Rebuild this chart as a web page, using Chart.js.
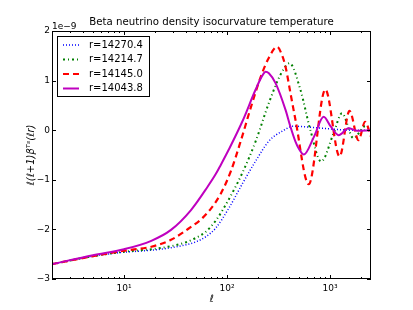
<!DOCTYPE html>
<html><head><meta charset="utf-8">
<script src="https://cdn.jsdelivr.net/npm/chart.js@4/dist/chart.umd.min.js"></script>
<style>html,body{margin:0;background:#fff}</style>
</head><body>
<canvas id="c" width="413" height="310"></canvas>
<script>
// data (values in units of 1e-9)
const blueEll = [2, 5, 10, 18.4, 28.6, 40, 50, 62, 78, 105, 141, 190, 255, 344, 440, 645, 1084, 1690, 2500];
const blueVals = [-2.70, -2.54, -2.46, -2.42, -2.37, -2.31, -2.25, -2.15, -1.97, -1.56, -1.08, -0.62, -0.22, -0.02, 0.08, 0.06, 0.02, 0.0, 0.0];
const greenEll = [2, 5, 10, 18.4, 30, 40, 50, 62, 78, 105, 141, 190, 255, 331, 405, 517, 645, 820, 1084, 1306, 1690, 2193, 2500];
const greenVals = [-2.70, -2.54, -2.45, -2.40, -2.33, -2.26, -2.17, -2.05, -1.82, -1.38, -0.86, -0.22, 0.55, 1.12, 1.35, 0.81, 0.0, -0.63, -0.06, 0.34, -0.16, 0.08, 0.0];
const redEll = [2, 5, 10, 18.4, 28.6, 44.7, 55.8, 69.8, 87, 108.8, 135.9, 169.8, 212, 253.5, 307, 344, 370, 413, 462, 621, 901, 1239, 1547, 1890, 2193, 2500];
const redVals = [-2.70, -2.54, -2.43, -2.35, -2.21, -1.95, -1.80, -1.58, -1.28, -0.83, -0.22, 0.45, 1.07, 1.45, 1.68, 1.50, 1.28, 0.75, 0.21, -1.09, 0.82, -0.53, 0.39, -0.20, 0.17, -0.13];
const magentaEll = [2, 5, 10, 18.4, 28.6, 44.7, 64.8, 78, 87, 104.7, 141.2, 189.7, 220, 237, 255, 296, 370, 413, 462, 500, 556, 700, 867, 1020, 1211, 1513, 1823, 2500];
const magentaVals = [-2.70, -2.52, -2.40, -2.23, -2.01, -1.61, -1.14, -0.88, -0.70, -0.38, 0.18, 0.82, 1.10, 1.18, 1.15, 0.95, 0.41, 0.07, -0.23, -0.38, -0.49, -0.13, 0.27, 0.07, -0.10, 0.04, -0.01, 0.0];
const seriesLabels = ['r=14270.4', 'r=14214.7', 'r=14145.0', 'r=14043.8'];

const xMajor = [10, 100, 1000];
const xMajorLabels = ['10\u00b9', '10\u00b2', '10\u00b3'];
const xMinor = [2, 3, 4, 5, 6, 7, 8, 9, 20, 30, 40, 50, 60, 70, 80, 90, 200, 300, 400, 500, 600, 700, 800, 900, 2000];
const yTicks = [-3, -2, -1, 0, 1, 2];

const FONT = 'DejaVu Sans';
const pts = (xs, ys) => xs.map((x, i) => ({x, y: ys[i]}));

const frame = {
  id: 'frame',
  afterDatasetsDraw(chart) {
    const {ctx, chartArea: a, scales: {x, y}} = chart;
    ctx.save();
    ctx.strokeStyle = '#000'; ctx.lineWidth = 1;
    ctx.beginPath();
    const tick = (px, len) => {
      px = Math.round(px) + 0.5;
      ctx.moveTo(px, a.bottom); ctx.lineTo(px, a.bottom - len);
      ctx.moveTo(px, a.top); ctx.lineTo(px, a.top + len);
    };
    xMajor.forEach(v => tick(x.getPixelForValue(v), 4));
    xMinor.forEach(v => tick(x.getPixelForValue(v), 2));
    yTicks.forEach(v => {
      const py = Math.round(y.getPixelForValue(v)) + 0.5;
      ctx.moveTo(a.left, py); ctx.lineTo(a.left + 4, py);
      ctx.moveTo(a.right, py); ctx.lineTo(a.right - 4, py);
    });
    ctx.stroke();
    ctx.strokeRect(a.left + 0.5, a.top + 0.5, a.right - a.left - 1, a.bottom - a.top - 1);

    // legend
    ctx.fillStyle = '#fff';
    ctx.fillRect(57, 36, 92, 60);
    ctx.strokeRect(57.5, 36.5, 92, 60);
    ctx.font = '10px "' + FONT + '"';
    ctx.textBaseline = 'middle'; ctx.textAlign = 'left';
    chart.data.datasets.forEach((d, i) => {
      const ry = 45 + i * 14.5;
      ctx.save();
      ctx.strokeStyle = d.borderColor; ctx.lineWidth = d.borderWidth;
      ctx.setLineDash(d.borderDash || []);
      ctx.beginPath(); ctx.moveTo(63, ry); ctx.lineTo(79, ry); ctx.stroke();
      ctx.restore();
      ctx.fillStyle = '#000';
      ctx.fillText(d.label, 89, ry);
    });

    // title, offset text, axis labels
    ctx.fillStyle = '#000';
    ctx.textAlign = 'center';
    ctx.font = '10.2px "' + FONT + '"';
    ctx.fillText('Beta neutrino density isocurvature temperature', (a.left + a.right) / 2, 22);
    ctx.textAlign = 'left'; ctx.textBaseline = 'alphabetic';
    ctx.font = '9px "' + FONT + '"';
    ctx.fillText('1e\u22129', a.left, 28.5);
    ctx.textAlign = 'center'; ctx.textBaseline = 'middle';
    ctx.font = 'italic 10px "' + FONT + '"';
    ctx.fillText('\u2113', (a.left + a.right) / 2, 299);
    ctx.translate(31, (a.top + a.bottom) / 2);
    ctx.rotate(-Math.PI / 2);
    ctx.font = 'italic 10px "' + FONT + '"';
    ctx.fillText('\u2113(\u2113+1)\u03b2\u1d40\u02e2(\u2113r)', 0, 0);
    ctx.restore();
  }
};

new Chart(document.getElementById('c'), {
  type: 'line',
  data: {
    datasets: [
      { label: seriesLabels[0], data: pts(blueEll, blueVals), borderColor: '#0000ff', borderWidth: 1.5, borderDash: [1, 2], order: 4 },
      { label: seriesLabels[1], data: pts(greenEll, greenVals), borderColor: '#008000', borderWidth: 2, borderDash: [2, 3, 1, 3], order: 3 },
      { label: seriesLabels[2], data: pts(redEll, redVals), borderColor: '#ff0000', borderWidth: 2.2, borderDash: [6, 4], order: 2 },
      { label: seriesLabels[3], data: pts(magentaEll, magentaVals), borderColor: '#bf00bf', borderWidth: 2, order: 1 }
    ]
  },
  options: {
    responsive: false, animation: false,
    layout: { padding: { top: 31, right: 42, left: 0, bottom: 0 } },
    elements: { point: { radius: 0 }, line: { cubicInterpolationMode: 'monotone', fill: false } },
    plugins: { legend: { display: false }, tooltip: { enabled: false } },
    scales: {
      x: {
        type: 'logarithmic', min: 2, max: 2500,
        grid: { display: false, drawTicks: false }, border: { display: false },
        afterBuildTicks: s => { s.ticks = xMajor.map(v => ({ value: v })); },
        ticks: { color: '#000', font: { family: FONT, size: 9 }, padding: 4, maxRotation: 0, autoSkip: false,
                 callback: v => xMajorLabels[xMajor.indexOf(v)] },
        afterFit: s => { s.height = 31; }
      },
      y: {
        min: -3, max: 2,
        grid: { display: false, drawTicks: false }, border: { display: false },
        afterBuildTicks: s => { s.ticks = yTicks.map(v => ({ value: v })); },
        ticks: { color: '#000', font: { family: FONT, size: 9 }, padding: 2,
                 callback: v => String(v).replace('-', '\u2212') },
        afterFit: s => { s.width = 52; }
      }
    }
  },
  plugins: [frame]
});
</script>
</body></html>
